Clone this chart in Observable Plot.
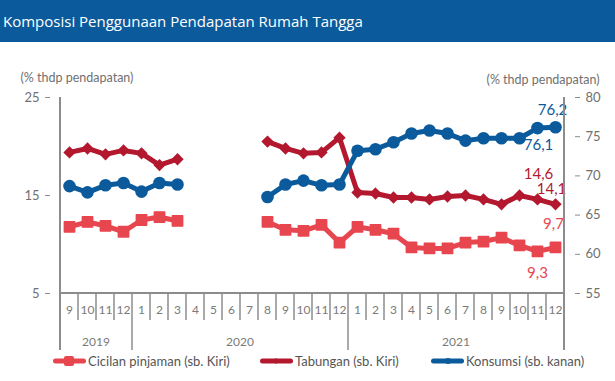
<!DOCTYPE html>
<html>
<head>
<meta charset="utf-8">
<script src="https://cdn.jsdelivr.net/npm/d3@7"></script>
<script src="https://cdn.jsdelivr.net/npm/@observablehq/plot@0.6"></script>
<style>
  html, body { margin: 0; padding: 0; background: #fff; }
  body { width: 615px; height: 381px; position: relative; overflow: hidden; font-family: "Open Sans", "Lato", sans-serif; }
  #title { height: 42px; background: #0b5b9c; color: #fff; font-size: 15px; line-height: 42px; padding-left: 3px; white-space: nowrap; }
  #chart { position: absolute; top: 42px; left: 0; }
  #legend { position: absolute; top: 352px; left: 0; width: 615px; height: 18px; }
  .item { position: absolute; top: 0; height: 18px; display: flex; align-items: center; font-family: "Lato", sans-serif; font-size: 13px; color: #555; white-space: nowrap; }
  .item svg { display: block; margin-right: 2px; }
</style>
</head>
<body>
<div id="title"></div>
<div id="chart"></div>
<div id="legend"></div>
<script>
// ---- data ----
const titleText = "Komposisi Penggunaan Pendapatan Rumah Tangga";
const axisTitle = "(% thdp pendapatan)";
const monthLabels = ["9","10","11","12","1","2","3","4","5","6","7","8","9","10","11","12","1","2","3","4","5","6","7","8","9","10","11","12"];
const yearLabels = ["2019", "2020", "2021"];
const monthsPerYear = [4, 12, 12];
const seriesNames = ["Cicilan pinjaman (sb. Kiri)", "Tabungan (sb. Kiri)", "Konsumsi (sb. kanan)"];
const cicilan  = [11.8,12.3,11.9,11.3, 12.5,12.8,12.4,null,null,null,null,12.3,11.5,11.4,12.0,10.2, 11.8,11.5,11.1,9.7,9.6,9.6,10.2,10.3,10.7,9.9,9.3,9.7];
const tabungan = [19.4,19.8,19.2,19.6, 19.3,18.1,18.7,null,null,null,null,20.5,19.8,19.3,19.4,20.9, 15.3,15.2,14.8,14.8,14.6,14.9,15.0,14.6,14.1,15.0,14.6,14.1];
const konsumsi = [68.7,67.9,68.8,69.1, 68.0,69.1,68.9,null,null,null,null,67.3,68.9,69.4,68.8,68.9, 73.2,73.4,74.3,75.4,75.8,75.4,74.5,74.8,74.8,74.8,76.1,76.2];
const leftTicks = [5, 15, 25];
const rightTicks = [55, 60, 65, 70, 75, 80];
const leftDomain = [5, 25];
const rightDomain = [55, 80];

// ---- styles ----
const colors = ["#e8464f", "#b3182f", "#0b5b9c"];
const toLeft = r => leftDomain[0] + (r - rightDomain[0]) * (leftDomain[1] - leftDomain[0]) / (rightDomain[1] - rightDomain[0]);
const fromLeft = l => Math.round(rightDomain[0] + (l - leftDomain[0]) * (rightDomain[1] - rightDomain[0]) / (leftDomain[1] - leftDomain[0]));
const fmt = v => String(v.toFixed(1)).replace(".", ",");

document.getElementById("title").textContent = titleText;

const idx = d3.range(monthLabels.length);
const rowsC = idx.map(i => ({i, v: cicilan[i]}));
const rowsT = idx.map(i => ({i, v: tabungan[i]}));
const rowsK = idx.map(i => ({i, v: konsumsi[i] == null ? null : toLeft(konsumsi[i])}));
const last = idx.length - 1;

const ann = [
  {r: rowsK[last], t: fmt(konsumsi[last]), dx: -3, dy: -17, c: colors[2]},
  {r: rowsK[last-1], t: fmt(konsumsi[last-1]), dx: 1, dy: 17, c: colors[2]},
  {r: rowsT[last-1], t: fmt(tabungan[last-1]), dx: 1, dy: -25, c: colors[1]},
  {r: rowsT[last], t: fmt(tabungan[last]), dx: -4, dy: -15, c: colors[1]},
  {r: rowsC[last], t: fmt(cicilan[last]), dx: -2, dy: -23, c: colors[0]},
  {r: rowsC[last-1], t: fmt(cicilan[last-1]), dx: 0, dy: 22, c: colors[0]}
];

const chart = Plot.plot({
  width: 615,
  height: 310,
  marginTop: 55,
  marginBottom: 59,
  marginLeft: 50,
  marginRight: 41,
  style: {fontFamily: "Lato, 'Open Sans', sans-serif", fontSize: "13px", color: "#707070", background: "transparent", overflow: "visible"},
  x: {type: "point", domain: idx, padding: 0.5, label: null},
  y: {domain: leftDomain, label: null},
  marks: [
    Plot.axisY(leftTicks, {anchor: "left", tickSize: 5, tickPadding: 6, label: null, fontSize: 13, stroke: "#8c8c8c"}),
    Plot.axisY(rightTicks.map(toLeft), {anchor: "right", tickSize: 5, tickPadding: 6, label: null, fontSize: 13, tickFormat: d => fromLeft(d), stroke: "#8c8c8c"}),
    Plot.axisX(idx, {anchor: "bottom", tickSize: 0, tickPadding: 12, label: null, fontSize: 12, fill: "#7a7a7a", tickFormat: i => monthLabels[i]}),
    Plot.text([axisTitle], {frameAnchor: "top-left", dx: -30, dy: -24, textAnchor: "start", fontSize: 12.5, fill: "#707070"}),
    Plot.text([axisTitle], {frameAnchor: "top-right", dx: 25, dy: -22, textAnchor: "end", fontSize: 12.5, fill: "#707070"}),
    Plot.line(rowsC, {x: "i", y: "v", stroke: colors[0], strokeWidth: 5}),
    Plot.dot(rowsC, {x: "i", y: "v", symbol: "square", r: 5.8, fill: colors[0], stroke: colors[0], strokeWidth: 1.5, strokeLinejoin: "round"}),
    Plot.line(rowsT, {x: "i", y: "v", stroke: colors[1], strokeWidth: 5}),
    Plot.dot(rowsT, {x: "i", y: "v", symbol: "diamond2", r: 4.6, fill: colors[1], stroke: colors[1]}),
    Plot.line(rowsK, {x: "i", y: "v", stroke: colors[2], strokeWidth: 5}),
    Plot.dot(rowsK, {x: "i", y: "v", r: 6.3, fill: colors[2]}),
    ...ann.map(a => Plot.text([a.r], {x: "i", y: "v", text: () => a.t, dx: a.dx, dy: a.dy, fill: a.c, fontSize: 15, fontFamily: "Lato, sans-serif"}))
  ]
});
document.getElementById("chart").appendChild(chart);

// category grid under the plot (positions from Plot's scales)
const sx = chart.scale("x"), sy = chart.scale("y");
const step = sx.apply(1) - sx.apply(0);
const xl = sx.apply(0) - step / 2, xr = sx.apply(last) + step / 2;
const yb = sy.apply(leftDomain[0]), yt = sy.apply(leftDomain[1]);
const g = d3.select(chart).append("g").attr("fill", "none");
const line = (x1, y1, x2, y2, w) => g.append("line").attr("x1", x1).attr("y1", y1).attr("x2", x2).attr("y2", y2).attr("stroke", "#8c8c8c").attr("stroke-width", w);
line(xl, yt, xl, yb + 57, 2);
line(xr, yt, xr, yb + 57, 2);
line(xl, yb, xr, yb, 2);
let start = 0;
const yearEnds = new Set();
monthsPerYear.forEach((n, k) => {
  const a = start, b = start + n - 1;
  yearEnds.add(b);
  const xa = sx.apply(a) - step / 2, xb = sx.apply(b) + step / 2;
  d3.select(chart).append("text").attr("x", (xa + xb) / 2).attr("y", yb + 53)
    .attr("text-anchor", "middle").attr("font-size", 12).attr("fill", "#7a7a7a").text(yearLabels[k]);
  start += n;
});
for (let i = 0; i < last; i++) {
  const x = (sx.apply(i) + sx.apply(i + 1)) / 2;
  line(x, yb, x, yearEnds.has(i) ? yb + 57 : yb + 27, 1.5);
}

// legend
const legend = document.getElementById("legend");
const legendPos = [53, 260, 431];
seriesNames.forEach((name, k) => {
  const item = document.createElement("div");
  item.className = "item";
  item.style.left = legendPos[k] + "px";
  const mk = k === 0
    ? `<rect x="11" y="4" width="10" height="10" rx="2" fill="${colors[k]}"/>`
    : k === 1
      ? `<path d="M16 6 L19 9 L16 12 L13 9 Z" fill="${colors[k]}"/>`
      : `<circle cx="17" cy="9" r="3" fill="${colors[k]}"/>`;
  item.innerHTML = `<svg width="33" height="18"><line x1="2.5" y1="9" x2="30.5" y2="9" stroke="${colors[k]}" stroke-width="5" stroke-linecap="round"/>${mk}</svg><span>${name}</span>`;
  legend.appendChild(item);
});
</script>
</body>
</html>
